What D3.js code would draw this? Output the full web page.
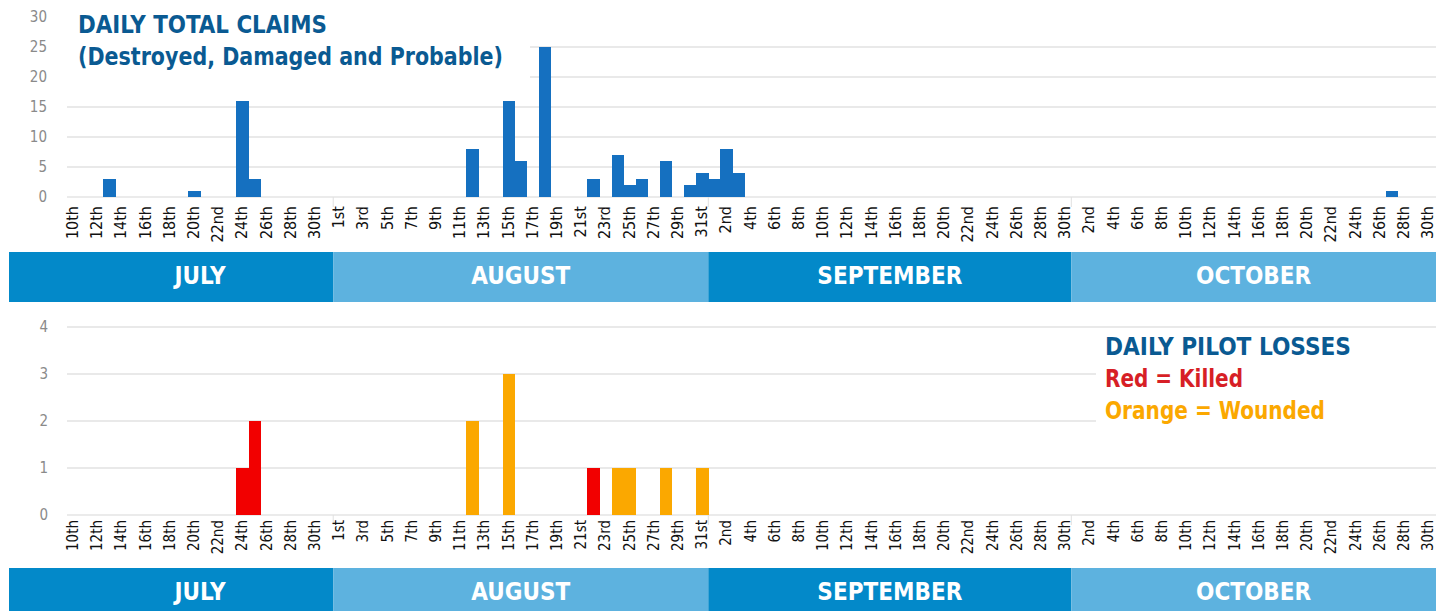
<!DOCTYPE html>
<html>
<head>
<meta charset="utf-8">
<script src="https://cdn.jsdelivr.net/npm/d3@7"></script>
<style>
  body { margin: 0; background: #fff; }
  svg { display: block; }
  .tick-label { font-family: "DejaVu Sans Condensed", "DejaVu Sans", sans-serif; fill: #111; }
  .ylab { font-family: "DejaVu Sans Condensed", "DejaVu Sans", sans-serif; fill: #8a8a8a; font-size: 15px; }
  .title { font-family: "DejaVu Sans Condensed", "DejaVu Sans", sans-serif; font-weight: bold; }
  .bar { shape-rendering: crispEdges; }
</style>
</head>
<body>
<script>
// Months shown on the x axis
var months = ["JULY", "AUGUST", "SEPTEMBER", "OCTOBER"];
var monthFirst = [10, 1, 1, 1];
var monthLast = [31, 31, 30, 30];

// Daily total claims (days not listed are zero)
var claimDays = ["7-13", "7-20", "7-24", "7-25", "8-12", "8-15", "8-16", "8-18", "8-22", "8-24",
                 "8-25", "8-26", "8-28", "8-30", "8-31", "9-1", "9-2", "9-3", "10-27"];
var claimValues = [3, 1, 16, 3, 8, 16, 6, 25, 3, 7, 2, 3, 6, 2, 4, 3, 8, 4, 1];

// Daily pilot losses
var killedDays = ["7-24", "7-25", "8-22"];
var killedValues = [1, 2, 1];
var woundedDays = ["8-12", "8-15", "8-24", "8-25", "8-28", "8-31"];
var woundedValues = [2, 3, 1, 1, 1, 1];

var claimTicks = [0, 5, 10, 15, 20, 25, 30];
var lossTicks = [0, 1, 2, 3, 4];

var W = 1436, H = 611;
var blue = "#1570c0", red = "#f20000", orange = "#fba800";
var bandDark = "#0389c9", bandLight = "#5db2df", titleBlue = "#0a5a92";

// build the list of days
var days = [];
months.forEach(function(m, i) {
  for (var d = monthFirst[i]; d <= monthLast[i]; d++) {
    days.push({key: (i + 7) + "-" + d, month: i, day: d});
  }
});

function ordinal(d) {
  if (d > 3 && d < 21) return d + "th";
  var r = d % 10;
  return d + (r == 1 ? "st" : r == 2 ? "nd" : r == 3 ? "rd" : "th");
}

var x = d3.scaleBand()
    .domain(days.map(function(d) { return d.key; }))
    .range([67, 1434.3])
    .padding(0);

var svg = d3.select("body").append("svg")
    .attr("width", W)
    .attr("height", H);

function monthLeft(i) {
  return x(days.find(function(e) { return e.month == i; }).key);
}
function monthRight(i) {
  var next = days.find(function(e) { return e.month == i + 1; });
  return next ? x(next.key) : W;
}

function panel(opts) {
  var y = d3.scaleLinear().domain(opts.domain).range([opts.y0, opts.y1]);
  var g = svg.append("g");

  // gridlines
  g.selectAll(".grid")
      .data(opts.grid)
      .enter().append("line")
        .attr("x1", 67).attr("x2", W)
        .attr("y1", function(d) { return y(d); })
        .attr("y2", function(d) { return y(d); })
        .attr("stroke", "#e2e2e2").attr("stroke-width", 1.5);

  // baseline
  g.append("line")
      .attr("x1", 67).attr("x2", W)
      .attr("y1", y(0)).attr("y2", y(0))
      .attr("stroke", "#e4e4e4").attr("stroke-width", 1.5);

  // month boundary ticks
  g.selectAll(".mtick")
      .data(days.filter(function(d) { return d.day == 1; }))
      .enter().append("line")
        .attr("x1", function(d) { return x(d.key); })
        .attr("x2", function(d) { return x(d.key); })
        .attr("y1", y(0)).attr("y2", y(0) + 10)
        .attr("stroke", "#e0e0e0");

  // y labels
  g.selectAll(".ylab")
      .data(opts.ticks)
      .enter().append("text")
        .attr("class", "ylab")
        .attr("x", opts.ylabX)
        .attr("y", function(d) { return y(d); })
        .attr("dy", "0.35em")
        .attr("text-anchor", "end")
        .text(function(d) { return d; });

  // x tick labels (every other day)
  g.selectAll(".tick-label")
      .data(days.filter(function(d, i) { return i % 2 == 0; }))
      .enter().append("text")
        .attr("class", "tick-label")
        .style("font-size", opts.tickSize + "px")
        .attr("transform", function(d) {
          return "translate(" + (x(d.key) + x.bandwidth() / 2 + 5) + "," + (y(0) + opts.tickGap) + ") rotate(-90)";
        })
        .attr("text-anchor", "end")
        .text(function(d) { return ordinal(d.day); });

  // month bands
  var bands = g.selectAll(".band")
      .data(months)
      .enter().append("g");
  bands.append("rect")
      .attr("x", function(d, i) { return i == 0 ? 9 : monthLeft(i); })
      .attr("width", function(d, i) { return monthRight(i) - (i == 0 ? 9 : monthLeft(i)); })
      .attr("y", opts.bandY).attr("height", opts.bandH)
      .attr("fill", function(d, i) { return i % 2 == 0 ? bandDark : bandLight; });
  bands.append("text")
      .attr("class", "title")
      .attr("x", function(d, i) { return (monthLeft(i) + monthRight(i)) / 2; })
      .attr("y", opts.bandY + opts.bandH / 2 + opts.bandTextShift)
      .attr("dy", "0.36em")
      .attr("text-anchor", "middle")
      .attr("fill", "#fff")
      .style("font-size", "24px")
      .text(function(d) { return d; });

  return {g: g, y: y};
}

function drawBars(p, keys, values, color) {
  p.g.selectAll(null)
      .data(keys)
      .enter().append("rect")
        .attr("class", "bar")
        .attr("x", function(d) { return x(d); })
        .attr("width", x.bandwidth() + 0.4)
        .attr("y", function(d, i) { return p.y(values[i]); })
        .attr("height", function(d, i) { return p.y(0) - p.y(values[i]); })
        .attr("fill", color);
}

// ---- top panel: claims
var claimsPanel = panel({domain: [0, 30], y0: 197, y1: 17, ticks: claimTicks, grid: [5, 10, 15, 20, 25],
                 ylabX: 47, tickSize: 16, tickGap: 9, bandY: 252, bandH: 50, bandTextShift: -2});

// title box covering grid
claimsPanel.g.append("rect").attr("x", 60).attr("y", 0).attr("width", 470).attr("height", 88).attr("fill", "#fff");
claimsPanel.g.append("text").attr("class", "title")
    .attr("x", 78).attr("y", 33).attr("fill", titleBlue)
    .style("font-size", "24px")
    .attr("textLength", 249).attr("lengthAdjust", "spacingAndGlyphs")
    .text("DAILY TOTAL CLAIMS");
claimsPanel.g.append("text").attr("class", "title")
    .attr("x", 78).attr("y", 65).attr("fill", titleBlue)
    .style("font-size", "24px")
    .attr("textLength", 425).attr("lengthAdjust", "spacingAndGlyphs")
    .text("(Destroyed, Damaged and Probable)");

drawBars(claimsPanel, claimDays, claimValues, blue);

// ---- bottom panel: pilot losses
var lossPanel = panel({domain: [0, 4], y0: 515, y1: 327, ticks: lossTicks, grid: [1, 2, 3, 4],
                 ylabX: 48, tickSize: 15, tickGap: 5, bandY: 568, bandH: 43, bandTextShift: 2});

lossPanel.g.append("rect").attr("x", 1096).attr("y", 331).attr("width", 340).attr("height", 108).attr("fill", "#fff");
var legend = [["DAILY PILOT LOSSES", titleBlue, 355, 246],
              ["Red = Killed", "#d71f26", 387, 138],
              ["Orange = Wounded", orange, 419, 220]];
lossPanel.g.selectAll(".leg")
    .data(legend)
    .enter().append("text")
      .attr("class", "title")
      .attr("x", 1105)
      .attr("y", function(d) { return d[2]; })
      .attr("fill", function(d) { return d[1]; })
      .style("font-size", "24px")
      .attr("textLength", function(d) { return d[3]; })
      .attr("lengthAdjust", "spacingAndGlyphs")
      .text(function(d) { return d[0]; });

drawBars(lossPanel, killedDays, killedValues, red);
drawBars(lossPanel, woundedDays, woundedValues, orange);
</script>
</body>
</html>
